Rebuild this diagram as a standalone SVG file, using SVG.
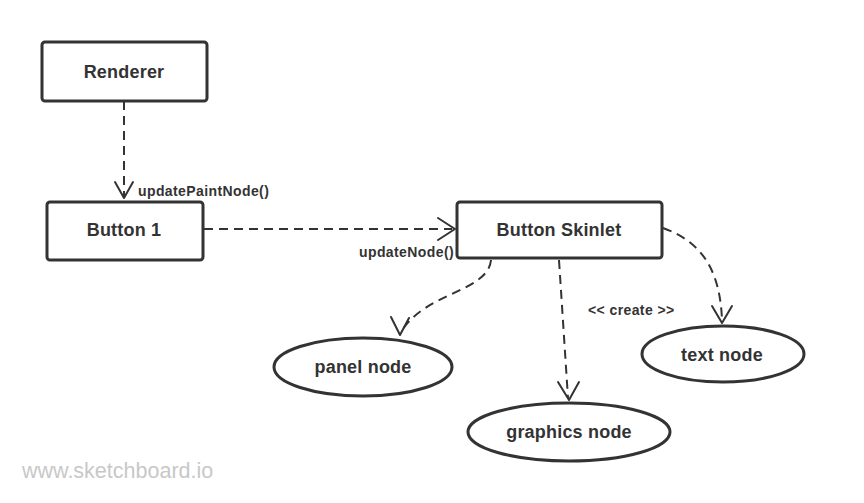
<svg xmlns="http://www.w3.org/2000/svg" width="864" height="503" viewBox="0 0 864 503">
<style>
.box{fill:#fff;stroke:#333;stroke-width:3;stroke-linejoin:round}
.ell{fill:#fff;stroke:#333;stroke-width:3}
.lbl{font-family:"Liberation Sans",Arial,sans-serif;font-weight:bold;font-size:18px;fill:#333;text-anchor:middle;letter-spacing:0.2px}
.sm{font-family:"Liberation Sans",Arial,sans-serif;font-weight:bold;font-size:14px;fill:#333;letter-spacing:0.4px}
.con{fill:none;stroke:#333;stroke-width:2;stroke-dasharray:9 6}
.head{fill:none;stroke:#333;stroke-width:2;stroke-linecap:round;stroke-linejoin:round}
.wm{font-family:"Liberation Sans",Arial,sans-serif;font-size:21.5px;fill:#c8c8c8}
</style>
<rect width="864" height="503" fill="#fff"/>
<g id="connectors">
<path class="con" d="M124,101 L124,196"/>
<path class="head" d="M115,182 L124,198 L133,182"/>
<path class="con" d="M204,229 L452,229"/>
<path class="head" d="M438,218 L455,229 L438,240"/>
<path class="con" d="M491,260 C488,292 425,292 401,332"/>
<path class="head" d="M391,317 L400,335 L409,318"/>
<path class="con" d="M559,260 L568,398"/>
<path class="head" d="M558,382 L569,400 L579,382"/>
<path class="con" d="M663,228 C702,242 720,270 722,320"/>
<path class="head" d="M712,306 L722,323 L732,306"/>
<text class="sm" x="138" y="196">updatePaintNode()</text>
<text class="sm" x="359" y="257">updateNode()</text>
<text class="sm" x="588" y="315">&lt;&lt; create &gt;&gt;</text>
</g>
<g id="renderer">
<rect class="box" x="42" y="42" width="165" height="59" rx="3"/>
<text class="lbl" x="124" y="78">Renderer</text>
</g>
<g id="button1">
<rect class="box" x="47" y="202" width="156" height="58" rx="3"/>
<text class="lbl" x="124" y="236">Button 1</text>
</g>
<g id="skinlet">
<rect class="box" x="457" y="202" width="205" height="56" rx="3"/>
<text class="lbl" x="559" y="236">Button Skinlet</text>
</g>
<g id="panel">
<ellipse class="ell" cx="363" cy="367" rx="89" ry="29"/>
<text class="lbl" x="363" y="373">panel node</text>
</g>
<g id="graphics">
<ellipse class="ell" cx="569" cy="432" rx="101" ry="29"/>
<text class="lbl" x="569" y="438">graphics node</text>
</g>
<g id="textnode">
<ellipse class="ell" cx="723" cy="354" rx="81" ry="28"/>
<text class="lbl" x="722" y="361">text node</text>
</g>
<text class="wm" x="22" y="478">www.sketchboard.io</text>
</svg>
